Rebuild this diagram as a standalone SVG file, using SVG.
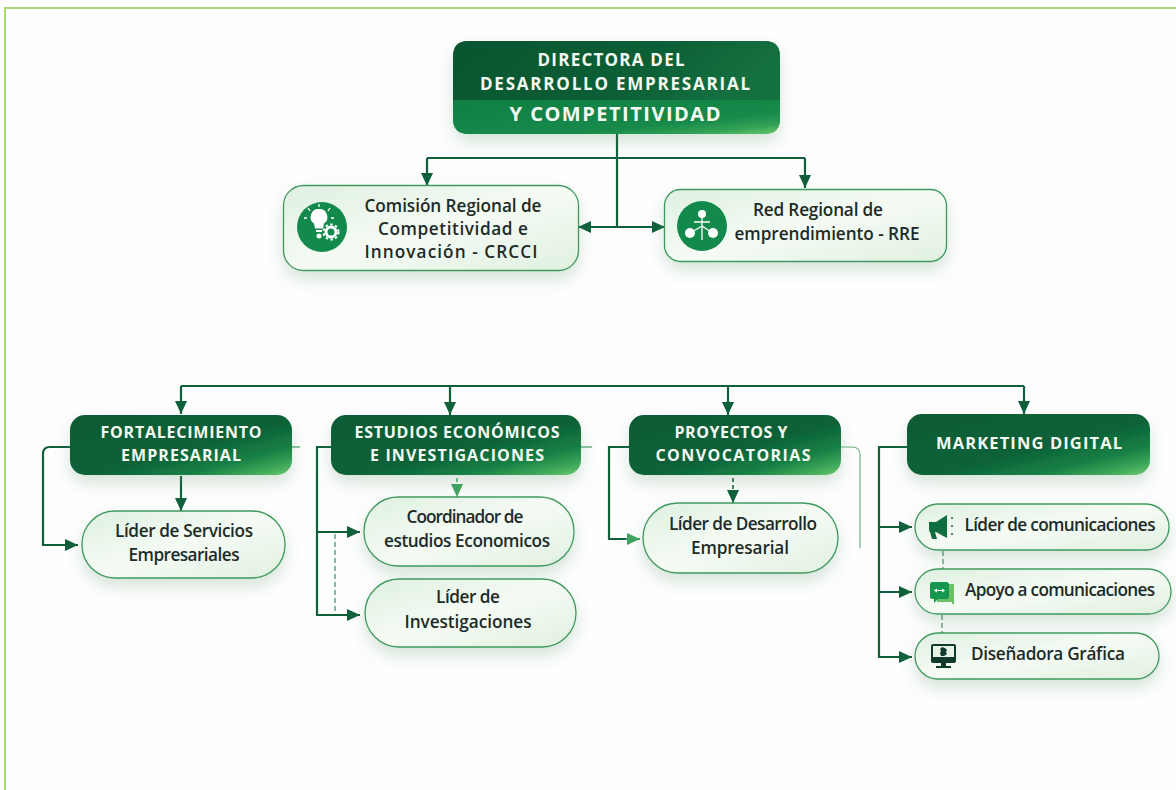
<svg xmlns="http://www.w3.org/2000/svg" width="1176" height="790" viewBox="0 0 1176 790">
<style>
.conn{fill:none;stroke:#0f5f3b;stroke-width:2.2}
.thin{fill:none;stroke:#3f9f5f;stroke-width:1.2}
.dash{fill:none;stroke:#3c8a63;stroke-width:1.2;stroke-dasharray:5 3}
.h{font-family:"Open Sans","Noto Sans",sans-serif;font-weight:700;fill:#f4faf2;text-anchor:middle}
.t{font-family:"Open Sans","Noto Sans",sans-serif;font-weight:600;fill:#1d2b28;text-anchor:middle;font-size:17.2px}
.light{fill:url(#lg);stroke:#3f9a5f;stroke-width:1.3;filter:url(#sh)}
.dark{fill:url(#dg);filter:url(#sh)}
.w{fill:#fff}
.ws{fill:none;stroke:#fff;stroke-width:1.3}
</style>
<defs>
<linearGradient id="dg" x1="0" y1="0" x2="1" y2="1">
<stop offset="0" stop-color="#0a5a35"/><stop offset="0.55" stop-color="#0c6238"/><stop offset="0.76" stop-color="#178045"/><stop offset="0.9" stop-color="#3fa85a"/><stop offset="1" stop-color="#6cca70"/>
</linearGradient>
<linearGradient id="tg" x1="0" y1="0" x2="1" y2="0.2">
<stop offset="0" stop-color="#08552f"/><stop offset="0.65" stop-color="#0c5f36"/><stop offset="1" stop-color="#157040"/>
</linearGradient>
<linearGradient id="mg" x1="0" y1="0" x2="1" y2="1">
<stop offset="0" stop-color="#0f7f44"/><stop offset="0.68" stop-color="#178a4a"/><stop offset="0.86" stop-color="#33a256"/><stop offset="1" stop-color="#68c86c"/>
</linearGradient>
<linearGradient id="lg" x1="0" y1="0" x2="1" y2="1">
<stop offset="0" stop-color="#dff0e1"/><stop offset="0.5" stop-color="#f5fbf4"/><stop offset="1" stop-color="#e0f0e0"/>
</linearGradient>
<filter id="sh" x="-15%" y="-20%" width="130%" height="170%">
<feDropShadow dx="0" dy="8" stdDeviation="8" flood-color="#4d8f68" flood-opacity="0.24"/>
</filter>
<marker id="a" markerUnits="userSpaceOnUse" markerWidth="14" markerHeight="14" refX="13" refY="7" orient="auto-start-reverse">
<path d="M0 1L13 7L0 13Z" fill="#0f5f3b"/>
</marker>
<marker id="b" markerUnits="userSpaceOnUse" markerWidth="14" markerHeight="14" refX="13" refY="7" orient="auto">
<path d="M0 1L13 7L0 13Z" fill="#3fa45f"/>
</marker>
</defs>
<rect width="1176" height="790" fill="#fefefe"/>
<path d="M1176 8H5V790" fill="none" stroke="#a6d970" stroke-width="2"/>

<g id="connectors">
<path class="conn" d="M617 134V227"/>
<path class="conn" d="M427 158H805"/>
<path class="conn" d="M427 158V186" marker-end="url(#a)"/>
<path class="conn" d="M805 158V188" marker-end="url(#a)"/>
<path class="conn" d="M578 227H665" marker-start="url(#a)" marker-end="url(#a)"/>
<path class="conn" d="M181 386H1024"/>
<path class="conn" d="M181 386V414" marker-end="url(#a)"/>
<path class="conn" d="M450 386V415" marker-end="url(#a)"/>
<path class="conn" d="M728 386V415" marker-end="url(#a)"/>
<path class="conn" d="M1024 386V414" marker-end="url(#a)"/>
<path class="conn" d="M70 447H50Q43 447 43 454V545H78" marker-end="url(#a)"/>
<path class="conn" d="M181 476V511" marker-end="url(#a)"/>
<path class="thin" d="M292 447H300"/>
<path class="conn" d="M331 447H317V615H360" marker-end="url(#a)"/>
<path class="conn" d="M317 532H360" marker-end="url(#a)"/>
<path class="dash" d="M335 534V613"/>
<path class="thin" d="M581 447H592"/>
<path d="M457 478V497" fill="none" stroke="#3fa45f" stroke-width="1.5" stroke-dasharray="4 2" marker-end="url(#b)"/>
<path class="conn" d="M629 447H609V539H630"/>
<path d="M626 539H640" fill="none" stroke="#3fa45f" stroke-width="2" marker-end="url(#b)"/>
<path d="M733 478V503" fill="none" stroke="#0f5f3b" stroke-width="1.6" stroke-dasharray="4 3" marker-end="url(#a)"/>
<path class="thin" d="M841 447H852Q860 447 860 455V548" stroke-opacity="0.8"/>
<path class="conn" d="M907 447H879V657H912" marker-end="url(#a)"/>
<path class="conn" d="M879 527H912" marker-end="url(#a)"/>
<path class="conn" d="M879 592H912" marker-end="url(#a)"/>
<path class="dash" d="M943 551V569"/>
<path class="dash" d="M942 615V633"/>
</g>

<g id="n-directora">
<rect x="453" y="41" width="327" height="93" rx="15" filter="url(#sh)" fill="#0f7f44"/>
<path d="M453 100V56Q453 41 468 41H765Q780 41 780 56V100Z" fill="url(#tg)"/>
<path d="M453 100H780V119Q780 134 765 134H468Q453 134 453 119Z" fill="url(#mg)"/>
<text class="h" x="611" y="66" font-size="17" textLength="147">DIRECTORA DEL</text>
<text class="h" x="615" y="90" font-size="17" textLength="270">DESARROLLO EMPRESARIAL</text>
<text class="h" x="615" y="121" font-size="20" textLength="211">Y COMPETITIVIDAD</text>
</g>

<g id="n-crcci">
<rect class="light" x="283.500" y="185.500" width="295" height="85" rx="20"/>
<circle cx="322" cy="227" r="25" fill="#138a4b"/>
<g id="icon-bulb">
<path class="w" d="M319 209a8 8 0 0 1 5 14.500l-1 5h-8l-1-5a8 8 0 0 1 5-14.500Z"/>
<rect class="w" x="316" y="230" width="6" height="2"/>
<circle class="w" cx="319" cy="236" r="2.500"/>
<path class="ws" d="M319 204v3M308 208l2 3M330 208l-2 3M304 218h3M334 218h-3"/>
<circle cx="331" cy="232" r="5" fill="none" stroke="#fff" stroke-width="3"/>
<circle cx="331" cy="232" r="7.500" fill="none" stroke="#fff" stroke-width="2" stroke-dasharray="2.500 2.400"/>
</g>
<text class="t" x="453" y="212" textLength="177">Comisión Regional de</text>
<text class="t" x="453" y="235" textLength="150">Competitividad e</text>
<text class="t" x="451" y="258" textLength="173">Innovación - CRCCI</text>
</g>

<g id="n-rre">
<rect class="light" x="664.500" y="189.500" width="282" height="72" rx="16"/>
<circle cx="702" cy="226" r="25" fill="#138a4b"/>
<g id="icon-net">
<circle class="w" cx="702" cy="214" r="4"/>
<circle class="w" cx="690" cy="233" r="5"/>
<circle class="w" cx="713" cy="233" r="5"/>
<path class="ws" d="M702 217V240M702 226L692 232M702 226L711 232M694 222H710"/>
</g>
<text class="t" x="818" y="216" textLength="130">Red Regional de</text>
<text class="t" x="827" y="240" textLength="185">emprendimiento - RRE</text>
</g>

<g id="n-fort">
<rect class="dark" x="70" y="415" width="222" height="60" rx="15"/>
<text class="h" x="181" y="438" font-size="16" textLength="161">FORTALECIMIENTO</text>
<text class="h" x="181" y="461" font-size="16" textLength="120">EMPRESARIAL</text>
</g>
<g id="n-estudios">
<rect class="dark" x="331" y="415" width="250" height="60" rx="15"/>
<text class="h" x="457" y="438" font-size="16" textLength="205">ESTUDIOS ECONÓMICOS</text>
<text class="h" x="457" y="461" font-size="16" textLength="174">E INVESTIGACIONES</text>
</g>
<g id="n-proyectos">
<rect class="dark" x="629" y="415" width="212" height="60" rx="15"/>
<text class="h" x="731" y="438" font-size="16" textLength="113">PROYECTOS Y</text>
<text class="h" x="733" y="461" font-size="16" textLength="155">CONVOCATORIAS</text>
</g>
<g id="n-marketing">
<rect class="dark" x="907" y="414" width="243" height="61" rx="15"/>
<text class="h" x="1029" y="449" font-size="16.500" textLength="186">MARKETING DIGITAL</text>
</g>

<g id="n-servicios">
<rect class="light" x="82" y="511" width="203" height="67" rx="33"/>
<text class="t" x="184" y="537" textLength="138">Líder de Servicios</text>
<text class="t" x="184" y="561" textLength="111">Empresariales</text>
</g>
<g id="n-coordinador">
<rect class="light" x="364" y="497" width="210" height="69" rx="34"/>
<text class="t" x="465" y="523" textLength="117">Coordinador de</text>
<text class="t" x="467" y="547" textLength="166">estudios Economicos</text>
</g>
<g id="n-investigaciones">
<rect class="light" x="365" y="579" width="211" height="68" rx="34"/>
<text class="t" x="468" y="603" textLength="64">Líder de</text>
<text class="t" x="468" y="628" textLength="127">Investigaciones</text>
</g>
<g id="n-desarrollo">
<rect class="light" x="643" y="503" width="195" height="70" rx="35"/>
<text class="t" x="743" y="530" textLength="148">Líder de Desarrollo</text>
<text class="t" x="740" y="554" textLength="98">Empresarial</text>
</g>
<g id="n-comunicaciones">
<rect class="light" x="915" y="504" width="254" height="46" rx="23"/>
<g id="icon-mega">
<path d="M929 522h7l11-7v23l-11-6h-1l2 7h-5l-2-7Q929 532 929 527Z" fill="#0f6e40"/>
<path d="M952 517v2M952 525v2M952 533v2" stroke="#0f6e40" stroke-width="1.500" fill="none"/>
</g>
<text class="t" x="1060" y="531" textLength="191">Líder de comunicaciones</text>
</g>
<g id="n-apoyo">
<rect class="light" x="915" y="569" width="256" height="45" rx="22.500"/>
<g id="icon-chat">
<path d="M937 584h17v20h-2v-2H937Z" fill="#6cc066"/>
<rect x="930" y="582" width="19" height="17" rx="2.500" fill="#17964f"/>
<path d="M934 598v5l5-5Z" fill="#17964f"/>
<path class="w" d="M934 590.500l3-2v4ZM945 590.500l-3-2v4ZM937 590h5v1h-5Z"/>
</g>
<text class="t" x="1060" y="596" textLength="190">Apoyo a comunicaciones</text>
</g>
<g id="n-disenadora">
<rect class="light" x="915" y="633" width="244" height="46" rx="23"/>
<g id="icon-mon">
<rect x="931" y="644" width="25" height="19" rx="2" fill="#123a2c"/>
<rect x="933" y="646" width="21" height="11" fill="#e8f3e8"/>
<path d="M942 647l3 1 2 2-1 2 1 2-3 2h-3l-1-3 1-2-1-2Z" fill="#123a2c"/>
<path d="M941 663h5v3h5v2h-15v-2h5Z" fill="#123a2c"/>
</g>
<text class="t" x="1048" y="660" textLength="154">Diseñadora Gráfica</text>
</g>
</svg>
